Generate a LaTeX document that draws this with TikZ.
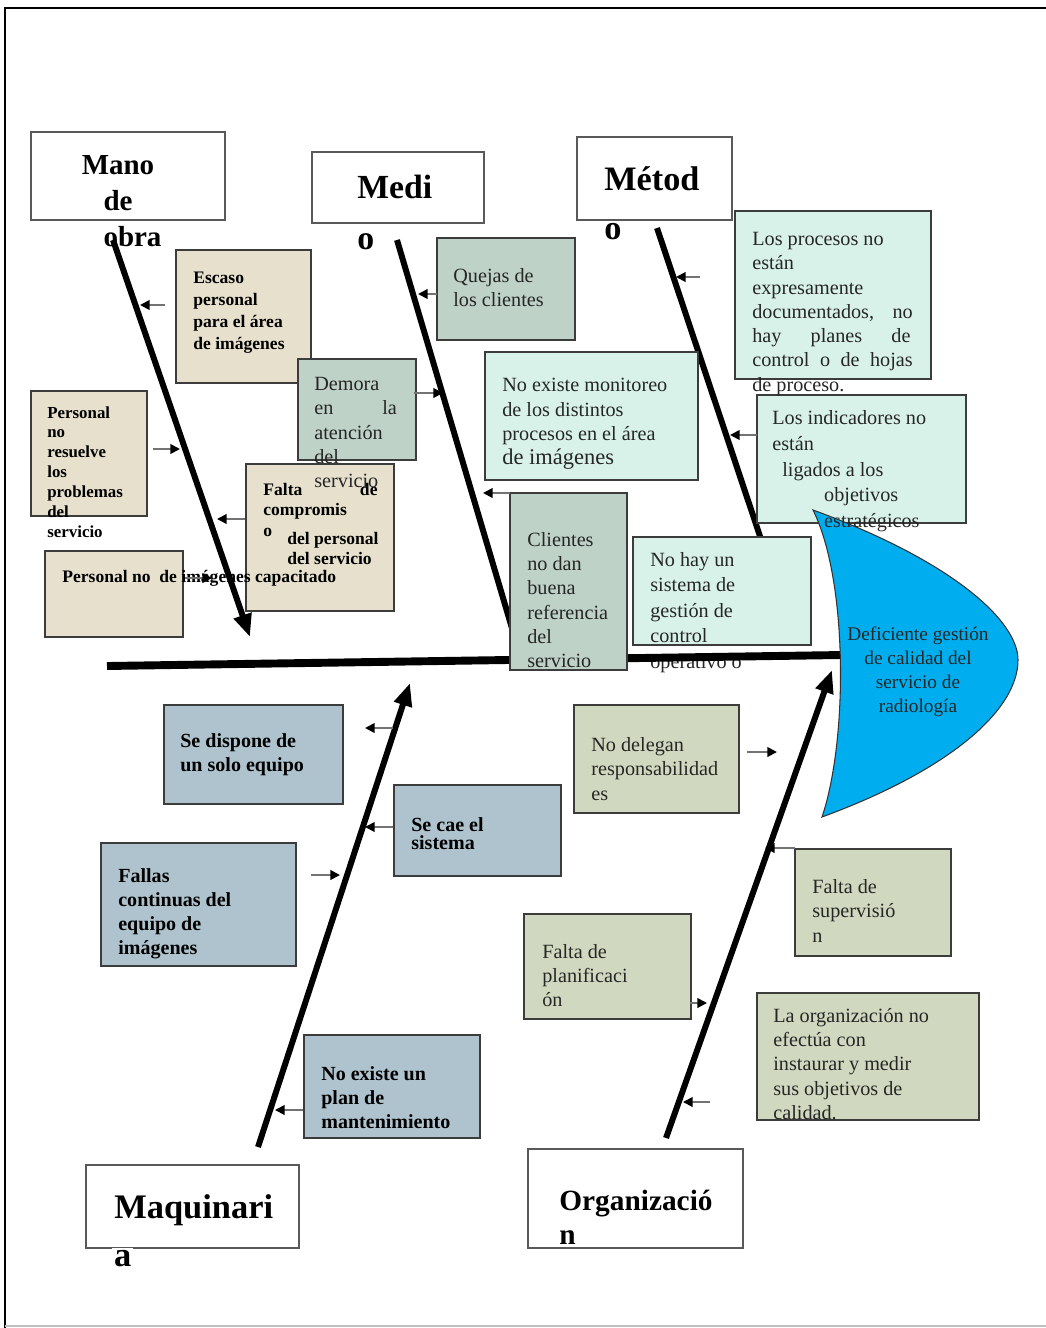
\documentclass[tikz,border=0pt]{standalone}
\usepackage{fontspec}
\setmainfont{Liberation Serif}
\usetikzlibrary{arrows.meta,fit}

\definecolor{manocol}{RGB}{230,224,205}
\definecolor{mediocol}{RGB}{190,210,199}
\definecolor{metodocol}{RGB}{216,242,233}
\definecolor{maqcol}{RGB}{174,195,205}
\definecolor{orgcol}{RGB}{208,217,191}
\definecolor{efectocol}{RGB}{0,174,239}
\definecolor{bordecol}{RGB}{60,60,60}

\tikzset{
	causa/.style={draw=bordecol, line width=0.8pt, inner sep=0pt},
	categoria/.style={causa, draw=black!65, fill=white},
	cattxt/.style={inner sep=0pt, align=left, text=black},
	txt/.style={anchor=north west, inner sep=0pt, align=left, text=black!85, font=\fontsize{11.5}{13.8}\selectfont},
	btxt/.style={txt, text=black, font=\bfseries\fontsize{10}{12.5}\selectfont},
	maqtxt/.style={txt, text=black, font=\bfseries\fontsize{11.4}{13.7}\selectfont},
	espina/.style={line width=3.4pt, black},
	flecha/.style={line width=1.1pt, black!55, -{Triangle[black, length=5.5pt, width=5.5pt]}}
}

\begin{document}
\begin{tikzpicture}[x=0.02cm, y=-0.02cm]
	\useasboundingbox (0,0) rectangle (1045,1328);
	\draw[line width=1.2pt] (1046,8) -- (5,8) -- (5,1329);
	\draw[black!25, line width=0.6pt] (5,1326) -- (1046,1326);

	\node[categoria, fit={(31,132)(225,220)}]		(mano) {};
	\node[categoria, fit={(312,152)(484,223)}]		(medio) {};
	\node[categoria, fit={(577,137)(732,220)}]		(metodo) {};
	\node[categoria, fit={(86,1165)(299,1248)}]		(maq) {};
	\node[categoria, fit={(528,1149)(743,1248)}]	(org) {};

	\node[cattxt, align=center, anchor=north, font=\bfseries\fontsize{16.5}{20.4}\selectfont] (manoT) at (118,155) {Mano\\de\\\hspace*{1em}obra};
	\node[cattxt, anchor=north west, font=\bfseries\fontsize{19.2}{28.6}\selectfont] (medioT) at (357,175) {Medi\\o};
	\node[cattxt, anchor=north west, font=\bfseries\fontsize{19.5}{27.8}\selectfont] (metodoT) at (604,166) {Métod\\o};
	\node[cattxt, anchor=base west, font=\bfseries\fontsize{19.6}{24}\selectfont] (maqT) at (114,1218) {Maquinari};
	\node[cattxt, anchor=base west, fill=white, inner sep=1pt, font=\bfseries\fontsize{19.6}{24}\selectfont] (maqT2) at (112,1266) {a};
	\node[cattxt, anchor=base west, font=\bfseries\fontsize{16.7}{20}\selectfont] (orgT) at (559,1210) {Organizació};
	\node[cattxt, anchor=base west, font=\bfseries\fontsize{16.7}{20}\selectfont] (orgT2) at (559,1244) {n};

	\coordinate (manoA) at (113,240);	\coordinate (manoB) at (250,637);
	\coordinate (medioA) at (397,240);	\coordinate (medioB) at (522,662);
	\coordinate (metodoA) at (657,228);	\coordinate (metodoB) at (794,638);
	\coordinate (maqA) at (258,1147);	\coordinate (maqB) at (410,683);
	\coordinate (orgA) at (666,1138);	\coordinate (orgB) at (832,670);
	\coordinate (espA) at (107,666);	\coordinate (espB) at (842,655);

	\draw[espina, -{Triangle[length=13pt, width=10pt]}] (manoA) -- (manoB);
	\draw[espina] (medioA) -- (medioB);
	\draw[espina] (metodoA) -- (metodoB);
	\draw[espina, -{Triangle[length=13pt, width=10pt]}] (maqA) -- (maqB);
	\draw[espina, -{Triangle[length=13pt, width=10pt]}] (orgA) -- (orgB);

	\node[causa, fill=manocol, fit={(176,250)(311,383)}]		(escaso) {};
	\node[causa, fill=manocol, fit={(31,391)(147,516)}]		(resuelve) {};
	\node[causa, fill=manocol, fit={(246,464)(394,611)}]		(falta) {};
	\node[causa, fill=manocol, fit={(45,551)(183,637)}]		(capacitado) {};
	\node[causa, fill=mediocol, fit={(437,238)(575,340)}]		(quejas) {};
	\node[causa, fill=mediocol, fit={(298,359)(416,460)}]		(demora) {};
	\node[causa, fill=metodocol, fit={(485,352)(698,480)}]		(monitoreo) {};
	\node[causa, fill=metodocol, fit={(735,211)(931,379)}]		(procesos) {};
	\node[causa, fill=metodocol, fit={(757,395)(966,523)}]		(indicadores) {};
	\node[causa, fill=metodocol, fit={(633,537)(811,645)}]		(nohay) {};
	\node[causa, fill=maqcol, fit={(164,705)(343,804)}]		(dispone) {};
	\node[causa, fill=maqcol, fit={(394,785)(561,876)}]		(cae) {};
	\node[causa, fill=maqcol, fit={(101,843)(296,966)}]		(fallas) {};
	\node[causa, fill=maqcol, fit={(304,1035)(480,1138)}]		(plan) {};
	\node[causa, fill=orgcol, fit={(574,705)(739,813)}]		(delega) {};
	\node[causa, fill=orgcol, fit={(795,849)(951,956)}]		(superv) {};
	\node[causa, fill=orgcol, fit={(524,914)(691,1019)}]		(planif) {};
	\node[causa, fill=orgcol, fit={(757,993)(979,1120)}]		(organiz) {};

	\node[txt, font=\fontsize{11.5}{14.5}\selectfont] (nohayT) at (650,552) {No hay un\\sistema de\\gestión de\\control\\operativo o};

	\draw[line width=4.5pt] (espA) -- (espB);

	\node[causa, fill=mediocol, fit={(510,493)(627,670)}]		(clientes) {};
	\node[txt] (clientesT) at (527,532) {Clientes\\no dan\\buena\\referencia\\del\\servicio};

	\draw[fill=efectocol, draw=black!80, line width=0.6pt] (813,510) .. controls (950,560) and (1018,620) .. (1018,660) .. controls (1018,710) and (950,770) .. (822,817) .. controls (848,740) and (848,580) .. (813,510) -- cycle;
	\node[txt, anchor=north, align=center, font=\fontsize{11}{13.6}\selectfont] (efectoT) at (918,627) {Deficiente gestión\\de calidad del\\servicio de\\radiología};

	\node[btxt] (escasoT) at (193,272) {Escaso\\personal\\para el área\\de imágenes};
	\node[btxt, font=\bfseries\fontsize{9.6}{11.3}\selectfont] (resuelveT) at (47,406) {Personal\\no\\resuelve\\los\\problemas\\del\\servicio};
	\node[btxt, font=\bfseries\fontsize{10}{11.6}\selectfont] (faltaT) at (263,483) {\makebox[65pt][s]{Falta de}\\compromis\\o};
	\node[btxt, font=\bfseries\fontsize{10}{11.3}\selectfont] (faltaT2) at (287,532) {del personal\\del servicio};
	\node[btxt, anchor=base west] (capacitadoT) at (62,582) {Personal no\ \ de imágenes capacitado};

	\node[txt] (quejasT) at (453,268) {Quejas de\\los clientes};
	\node[txt] (demoraT) at (314,377) {Demora\\\makebox[47pt][s]{en la}\\atención\\del\\servicio};

	\node[txt, font=\fontsize{11.5}{13.9}\selectfont] (monitoreoT) at (502,378) {No existe monitoreo\\de los distintos\\procesos en el área\\{\fontsize{12.8}{14}\selectfont de imágenes}};
	\node[txt] (procesosT) at (752,232) {Los procesos no\\están\\expresamente\\\makebox[91.3pt][s]{documentados, no}\\\makebox[90pt][s]{hay planes de}\\\makebox[91.3pt][s]{control o de hojas}\\de proceso.};
	\node[txt, font=\fontsize{11.5}{14.7}\selectfont] (indicadoresT) at (772,410) {Los indicadores no\\están\\\hspace*{5.7pt}ligados a los\\\hspace*{29.5pt}objetivos\\\hspace*{29.5pt}estratégicos};

	\node[maqtxt] (disponeT) at (180,733) {Se dispone de\\un solo equipo};
	\node[maqtxt, font=\bfseries\fontsize{11.4}{10.2}\selectfont] (caeT) at (411,817) {Se cae el\\sistema};
	\node[maqtxt] (fallasT) at (118,868) {Fallas\\continuas del\\equipo de\\imágenes};
	\node[maqtxt] (planT) at (321,1066) {No existe un\\plan de\\mantenimiento};

	\node[txt, font=\fontsize{11.5}{13.9}\selectfont] (delegaT) at (591,737) {No delegan\\responsabilidad\\es};
	\node[txt, font=\fontsize{11.5}{13.9}\selectfont] (supervT) at (812,879) {Falta de\\supervisió\\n};
	\node[txt] (planifT) at (542,944) {Falta de\\planificaci\\ón};
	\node[txt] (organizT) at (773,1008) {La organización no\\efectúa con\\instaurar y medir\\sus objetivos de\\calidad.};

	\foreach \n/\xa/\xb/\yy in {1/165/140/305, 2/153/180/449, 3/245/217/519, 4/185/212/578,
		5/437/418/294, 6/414/443/393, 7/510/483/493, 8/700/676/277, 9/757/730/435,
		10/393/365/728, 11/393/365/827, 12/311/340/875, 13/303/275/1110,
		14/747/777/752, 15/795/765/848, 16/690/707/1003, 17/710/683/1102}{
		\coordinate (s\n) at (\xa,\yy);
		\coordinate (t\n) at (\xb,\yy);
		\draw[flecha] (s\n) -- (t\n);
	}
\end{tikzpicture}
\end{document}
